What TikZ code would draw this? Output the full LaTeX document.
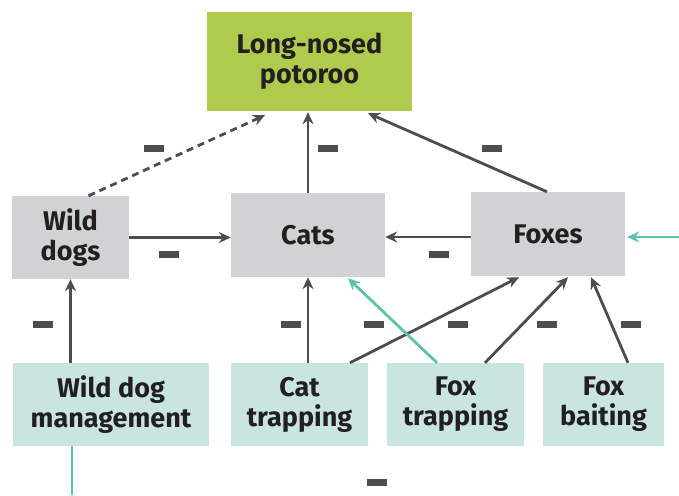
\documentclass[tikz,border=0pt]{standalone}
\usepackage{fontspec}
\setmainfont{Fira Sans}
\usetikzlibrary{arrows.meta,calc}
\definecolor{potgreen}{HTML}{AFCB4E}
\definecolor{boxgray}{HTML}{D1D2D4}
\definecolor{boxteal}{HTML}{C8E5DF}
\definecolor{lineteal}{HTML}{5BC2AE}
\definecolor{linedark}{HTML}{4D4D4F}
\definecolor{txt}{HTML}{231F20}
\tikzset{
  box/.style={inner sep=0pt, align=center, text=txt,
    font=\fontsize{27}{30}\selectfont\bfseries},
  potbox/.style={box, fill=potgreen},
  graybox/.style={box, fill=boxgray},
  tealbox/.style={box, fill=boxteal},
  arr/.style={draw=linedark, line width=2.8pt,
    -{Stealth[length=12pt,width=11pt,inset=4pt]}},
  tarr/.style={arr, draw=lineteal},
  minus/.style={fill=linedark, inner sep=0pt, minimum width=20pt, minimum height=7pt},
}
\begin{document}
\begin{tikzpicture}[x=1pt,y=-1pt]
\useasboundingbox (0,0) rectangle (679,495);
% boxes
\node[potbox, minimum width=205pt, minimum height=99pt] (pot) at (309.5,61.5) {Long-nosed\\potoroo};
\node[graybox, minimum width=117pt, minimum height=83pt] (wd) at (70.5,237.5) {Wild\\dogs};
\node[graybox, minimum width=154pt, minimum height=84pt] (cats) at (308,235) {Cats};
\node[graybox, minimum width=154pt, minimum height=84pt] (fox) at (548,234) {Foxes};
\node[tealbox, minimum width=196pt, minimum height=83pt] (wdm) at (111,404.5) {Wild dog\\management};
\node[tealbox, minimum width=137pt, minimum height=83pt] (ct) at (299.5,404.5) {Cat\\trapping};
\node[tealbox, minimum width=137pt, minimum height=83pt] (ft) at (455.5,404.5) {Fox\\trapping};
\node[tealbox, minimum width=121pt, minimum height=83pt] (fb) at (603.5,404.5) {Fox\\baiting};
% free ends
\coordinate (rin) at (679,237);
\coordinate (bout) at (72,495);
% dark connectors
\draw[arr, dashed, dash pattern=on 7pt off 5pt] ($(wd.north)+(18,0)$) -- ($(pot.south)+(-44.5,4)$);
\draw[arr] (cats.north) -- ($(pot.south)+(-1.5,1)$);
\draw[arr] ($(fox.north)+(-1,0)$) -- ($(pot.south)+(58.5,2)$);
\draw[arr] (wd.east) -- (wd.east -| cats.west);
\draw[arr] ($(fox.west)+(0,3)$) -- ($(cats.east)+(0,2)$);
\draw[arr] (wd.south |- wdm.north) -- (wd.south);
\draw[arr] (cats.south |- ct.north) -- (cats.south);
\draw[arr] ($(ct.north)+(50.5,0)$) -- ($(fox.south)+(-29,1)$);
\draw[arr] ($(ft.north)+(29.5,0)$) -- ($(fox.south)+(20,1)$);
\draw[arr] ($(fb.north)+(24.5,0)$) -- ($(fox.south)+(43,1)$);
% teal connectors
\draw[tarr] ($(ft.north)+(-18.5,0)$) -- ($(cats.south)+(40,1)$);
\draw[tarr] (rin) -- ($(fox.east)+(2,3)$);
\draw[draw=lineteal, line width=2.8pt] ($(wdm.south)+(-39,0)$) -- (bout);
% minus signs
\node[minus] (m1) at (154,148) {};
\node[minus] (m2) at (328,148) {};
\node[minus] (m3) at (492,148) {};
\node[minus] (m4) at (169,254) {};
\node[minus] (m5) at (439,254) {};
\node[minus] (m6) at (43,324) {};
\node[minus] (m7) at (291,324) {};
\node[minus] (m8) at (374,324) {};
\node[minus] (m9) at (458,324) {};
\node[minus] (m10) at (547,324) {};
\node[minus] (m11) at (631,324) {};
\node[minus] (m12) at (377,482) {};
\end{tikzpicture}
\end{document}
